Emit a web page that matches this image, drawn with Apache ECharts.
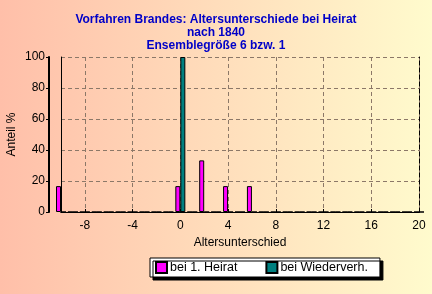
<!DOCTYPE html>
<html>
<head>
<meta charset="utf-8">
<script src="https://cdn.jsdelivr.net/npm/echarts@6/dist/echarts.min.js"></script>
<style>
  html, body { margin: 0; padding: 0; }
  #chart { width: 432px; height: 294px; }
</style>
</head>
<body>
<div id="chart"></div>
<script>
// Altersunterschiede bei Heirat - Balkendiagramm

const altersDiff = [-10, -9, -8, -7, -6, -5, -4, -3, -2, -1, 0, 1, 2, 3, 4, 5, 6, 7, 8, 9, 10,
  11, 12, 13, 14, 15, 16, 17, 18, 19, 20];
const ersteHeirat = [16.7, 0, 0, 0, 0, 0, 0, 0, 0, 0, 16.7, 0, 33.3, 0, 16.7, 0, 16.7, 0, 0, 0, 0,
  0, 0, 0, 0, 0, 0, 0, 0, 0, 0];
const wiederverh = [0, 0, 0, 0, 0, 0, 0, 0, 0, 0, 100, 0, 0, 0, 0, 0, 0, 0, 0, 0, 0,
  0, 0, 0, 0, 0, 0, 0, 0, 0, 0];
const yTicks = [0, 20, 40, 60, 80, 100];

const myChart = echarts.init(document.getElementById('chart'));

const jedeVierte = (idx, val) => Number(val) % 4 === 0;
const font = 'Arial, "Liberation Sans", sans-serif';

const option = {
  backgroundColor: new echarts.graphic.LinearGradient(0, 0, 1, 0, [
    { offset: 0, color: '#ffbfa9' },
    { offset: 1, color: '#fffbcd' }
  ]),
  animation: false,
  title: {
    text: 'Vorfahren Brandes: Altersunterschiede bei Heirat\nnach 1840\nEnsemblegröße 6 bzw. 1',
    left: 'center',
    top: 8,
    textStyle: {
      color: '#0000c8',
      fontFamily: font,
      fontWeight: 'bold',
      fontSize: 12,
      lineHeight: 13
    }
  },
  legend: {
    top: 258,
    left: 150,
    icon: 'rect',
    itemWidth: 11,
    itemHeight: 11,
    itemGap: 28,
    padding: [3, 12, 3, 5],
    backgroundColor: '#ffffff',
    borderColor: '#000',
    borderWidth: 1,
    shadowColor: '#000',
    shadowOffsetX: 3,
    shadowOffsetY: 3,
    shadowBlur: 0,
    textStyle: { color: '#000', fontFamily: font, fontSize: 12.5, padding: [0, 0, 0, -2] },
    data: ['bei 1. Heirat', 'bei Wiederverh.']
  },
  grid: {
    left: 61,
    right: 13,
    top: 57,
    bottom: 82,
    outerBoundsMode: 'none'
  },
  xAxis: [
    {
      type: 'category',
      data: altersDiff,
      boundaryGap: false,
      name: 'Altersunterschied',
      nameLocation: 'middle',
      nameGap: 24,
      nameTextStyle: { color: '#000', fontFamily: font, fontSize: 12 },
      axisLine: { lineStyle: { color: '#000', width: 1 } },
      axisTick: { show: true, inside: true, length: 3, interval: jedeVierte, lineStyle: { color: '#000' } },
      axisLabel: { interval: jedeVierte, color: '#000', fontFamily: font, fontSize: 12, margin: 8 },
      splitLine: {
        show: true,
        interval: jedeVierte,
        lineStyle: { color: '#8c7868', type: [4, 3] }
      }
    },
    {
      type: 'category',
      data: altersDiff,
      boundaryGap: false,
      position: 'top',
      axisLine: { lineStyle: { color: '#000', type: [4, 3] } },
      axisTick: { show: false },
      axisLabel: { show: false }
    }
  ],
  yAxis: [
    {
      type: 'value',
      min: 0,
      max: 100,
      interval: 20,
      offset: 12,
      name: 'Anteil %',
      nameLocation: 'middle',
      nameGap: 31,
      nameMoveOverlap: false,
      nameTextStyle: { color: '#000', fontFamily: font, fontSize: 12 },
      axisLine: { show: true, lineStyle: { color: '#000', width: 2 } },
      axisTick: { show: true, length: 3, lineStyle: { color: '#000' } },
      axisLabel: {
        color: '#000', fontFamily: font, fontSize: 12, margin: 4,
        formatter: v => (yTicks.includes(v) ? String(v) : '')
      },
      splitLine: { show: true, lineStyle: { color: '#8c7868', type: [4, 3] } }
    },
    {
      type: 'value',
      min: 0,
      max: 100,
      position: 'left',
      offset: 0,
      axisLine: { show: true, lineStyle: { color: '#000', width: 1 } },
      axisTick: { show: false },
      axisLabel: { show: false },
      splitLine: { show: false }
    },
    {
      type: 'value',
      min: 0,
      max: 100,
      position: 'right',
      axisLine: { show: true, lineStyle: { color: '#000', type: [4, 3] } },
      axisTick: { show: false },
      axisLabel: { show: false },
      splitLine: { show: false }
    }
  ],
  series: [
    {
      name: 'bei 1. Heirat',
      type: 'bar',
      data: ersteHeirat,
      barWidth: 5,
      barGap: 0,
      clip: false,
      itemStyle: { color: '#ff00ff', borderColor: '#000', borderWidth: 1 }
    },
    {
      name: 'bei Wiederverh.',
      type: 'bar',
      data: wiederverh,
      barWidth: 5,
      barGap: 0,
      clip: false,
      itemStyle: { color: '#008080', borderColor: '#000', borderWidth: 1 }
    }
  ]
};

myChart.setOption(option);
</script>
</body>
</html>
